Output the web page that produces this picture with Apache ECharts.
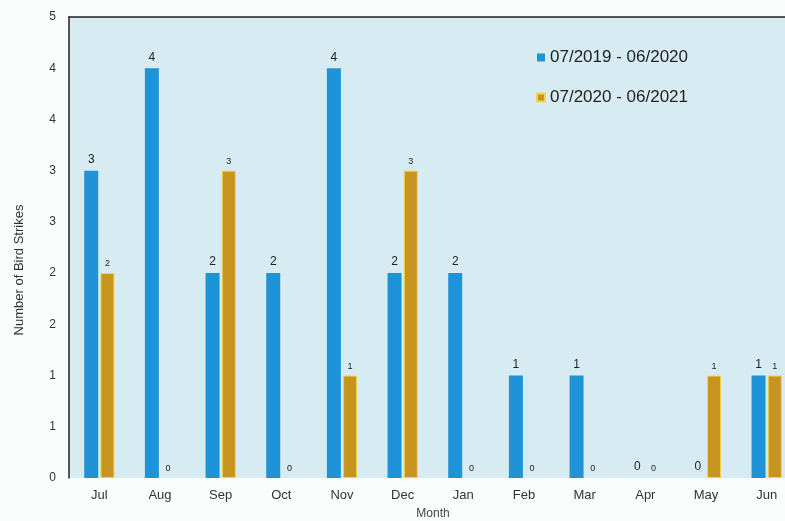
<!DOCTYPE html>
<html>
<head>
<meta charset="utf-8">
<script src="https://cdn.jsdelivr.net/npm/echarts@6/dist/echarts.min.js"></script>
<style>
  html, body { margin: 0; padding: 0; background: #fbfdfd; overflow: hidden; width: 785px; height: 521px; }
  #frame { position: relative; width: 785px; height: 521px; overflow: hidden; }
  #chart { position: absolute; left: 0; top: 0; width: 800px; height: 521px; }
</style>
</head>
<body>
<div id="frame"><div id="chart"></div></div>
<script>
// Monthly bird strike counts for two reporting years
const months = ['Jul', 'Aug', 'Sep', 'Oct', 'Nov', 'Dec', 'Jan', 'Feb', 'Mar', 'Apr', 'May', 'Jun'];
const year1Name = '07/2019 - 06/2020';
const year2Name = '07/2020 - 06/2021';
const year1 = [3, 4, 2, 2, 4, 2, 2, 1, 1, 0, 0, 1];
const year2 = [2, 0, 3, 0, 1, 3, 0, 0, 0, 0, 1, 1];
const yTitle = 'Number of Bird Strikes';

const chart = echarts.init(document.getElementById('chart'), null, { renderer: 'canvas' });
const font = 'Liberation Sans, Arial, sans-serif';

// zero-height bars keep their label but drop the outline
const year2Data = year2.map(v => v === 0 ? { value: v, itemStyle: { borderWidth: 0 } } : v);

chart.setOption({
  animation: false,
  textStyle: { fontFamily: font },
  grid: {
    left: 69, top: 17, width: 728, height: 461,
    outerBoundsMode: 'none',
    containLabel: false,
    show: true, backgroundColor: '#d7ecf2', borderWidth: 0
  },
  legend: {
    orient: 'vertical',
    left: 531, top: 44,
    itemWidth: 8, itemHeight: 8, itemGap: 23,
    icon: 'rect',
    textStyle: { fontSize: 17, color: '#222', fontFamily: font },
    data: [year1Name, year2Name]
  },
  graphic: [{
    type: 'text',
    x: 19, y: 270,
    rotation: Math.PI / 2,
    style: {
      text: yTitle,
      font: '13px Liberation Sans, Arial, sans-serif',
      fill: '#333',
      align: 'center',
      verticalAlign: 'middle'
    }
  }],
  xAxis: [{
    type: 'category',
    data: months,
    name: 'Month',
    nameLocation: 'middle',
    nameGap: 30,
    nameTextStyle: { fontSize: 12, color: '#444' },
    axisLine: { show: false },
    axisTick: { show: false },
    axisLabel: { fontSize: 13, color: '#333', margin: 11 }
  }, {
    type: 'category',
    data: months,
    position: 'top',
    axisLine: { show: true, lineStyle: { color: '#222', width: 1.5 } },
    axisTick: { show: false },
    axisLabel: { show: false }
  }],
  yAxis: {
    type: 'value',
    min: 0, max: 4.5, interval: 0.5,
    axisLine: { show: true, lineStyle: { color: '#222', width: 1.5 } },
    axisTick: { show: false },
    splitLine: { show: false },
    axisLabel: {
      fontSize: 12, color: '#333', margin: 13,
      formatter: v => String(Math.round(v))
    }
  },
  series: [{
    name: year1Name,
    type: 'bar',
    data: year1,
    barWidth: 14,
    barGap: '16%',
    itemStyle: { color: '#1f93d8' },
    label: { show: true, position: 'top', distance: 5, fontSize: 12, color: '#222' }
  }, {
    name: year2Name,
    type: 'bar',
    data: year2Data,
    barWidth: 14,
    itemStyle: { color: '#c6941f', borderColor: '#f2d44a', borderWidth: 1 },
    label: { show: true, position: 'top', distance: 5, fontSize: 9, color: '#222' }
  }]
});
</script>
</body>
</html>
